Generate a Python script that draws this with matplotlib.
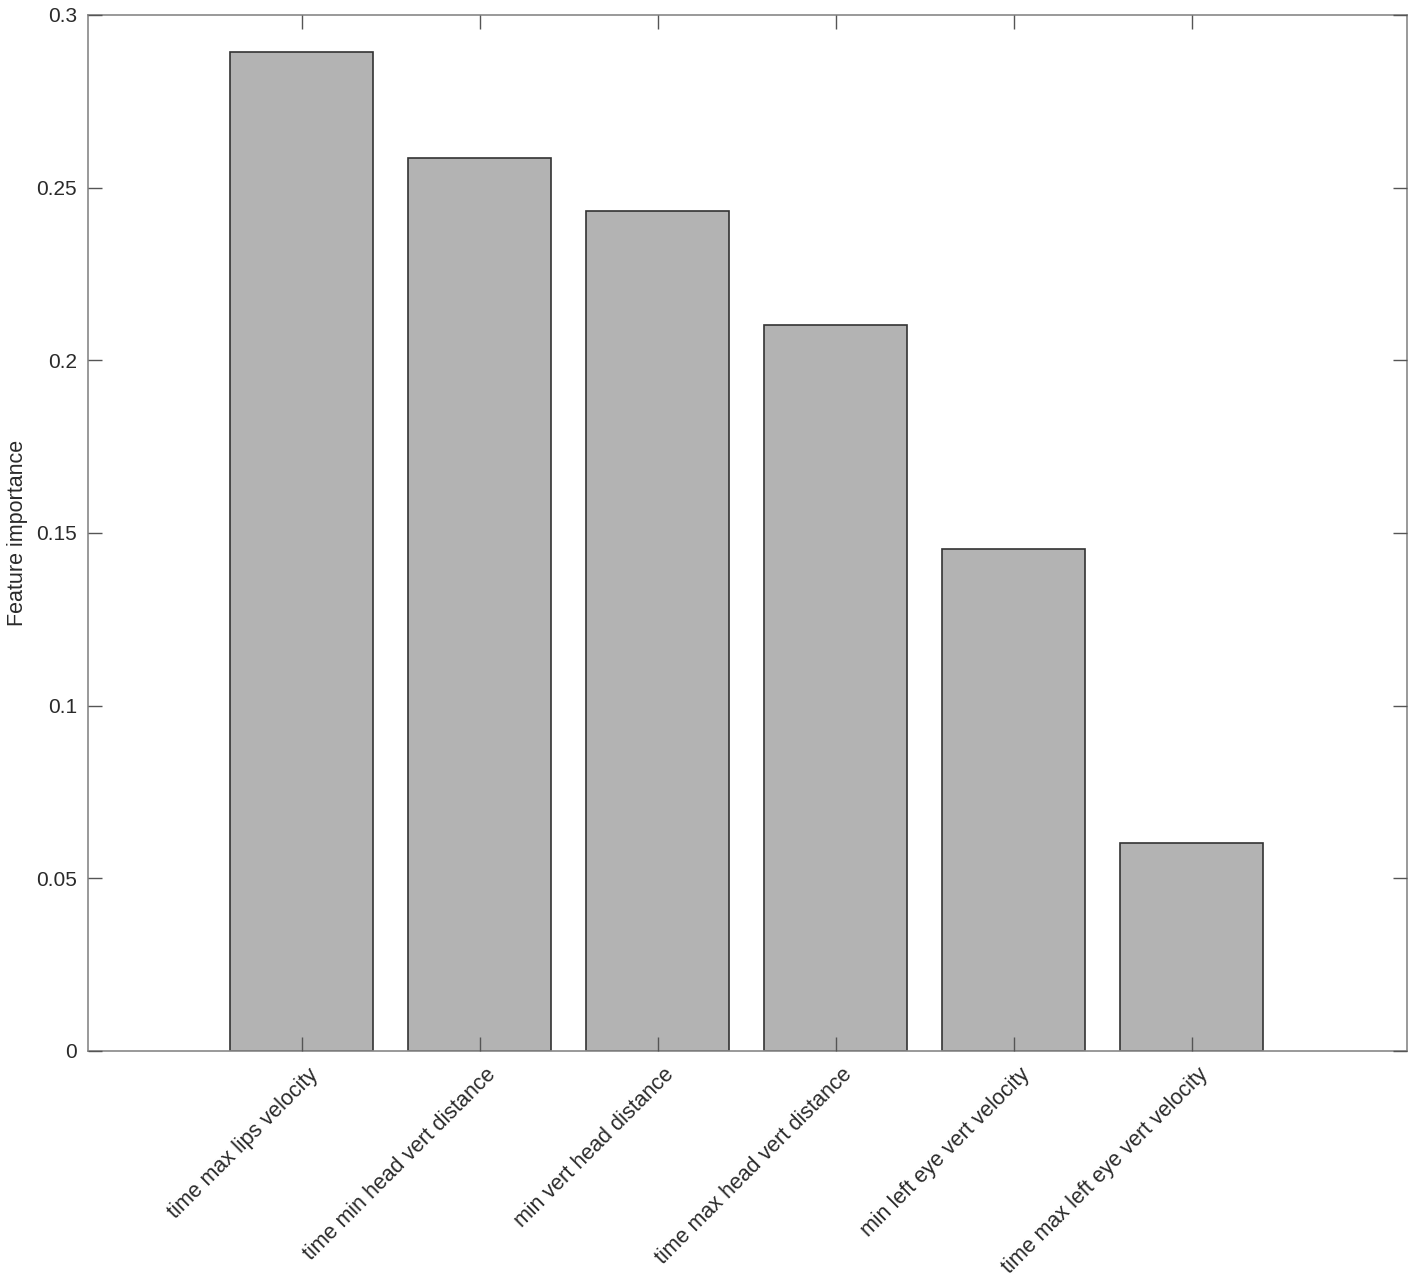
import matplotlib
matplotlib.use("Agg")
import matplotlib.pyplot as plt
import matplotlib.transforms as mtransforms

categories = ["time max lips velocity", "time min head vert distance", "min vert head distance",
              "time max head vert distance", "min left eye vert velocity", "time max left eye vert velocity"]
values = [0.2893, 0.2586, 0.2433, 0.2103, 0.1454, 0.0602]
yticks = [0, 0.05, 0.1, 0.15, 0.2, 0.25, 0.3]
ytick_labels = ["0", "0.05", "0.1", "0.15", "0.2", "0.25", "0.3"]

plt.rcParams['font.family'] = ['Liberation Sans', 'DejaVu Sans']
fig = plt.figure(figsize=(14.17, 12.85), dpi=100)
ax = fig.add_axes([88/1417, 1-1051/1285, (1407-88)/1417, (1051-15)/1285])

x = list(range(1, len(values)+1))
ax.bar(x, values, width=0.8, color="#b3b3b3", edgecolor="#333333", linewidth=1.2, zorder=1)
ax.set_xlim(-0.2, 7.21)
ax.set_ylim(0, 0.3)
ax.set_yticks(yticks)
ax.set_yticklabels(ytick_labels)
ax.set_xticks(x)
ax.set_xticklabels(categories, rotation=45, ha="right", rotation_mode="anchor")
ax.tick_params(direction="in", length=10, width=1, color="#555555", labelcolor="#2a2a2a",
               labelsize=15, top=True, right=True, pad=8)
ax.tick_params(axis="x", pad=11, labelsize=15.5)
offset = mtransforms.ScaledTranslation(6/100, 2/100, fig.dpi_scale_trans)
for lbl in ax.get_xticklabels():
    lbl.set_transform(lbl.get_transform() + offset)
for s in ax.spines.values():
    s.set_color("#888888")
    s.set_linewidth(1.2)
ax.set_ylabel("Feature importance", fontsize=15.5, color="#2a2a2a", labelpad=6)
ax.set_axisbelow(False)
fig.savefig("out.png", dpi=100)
